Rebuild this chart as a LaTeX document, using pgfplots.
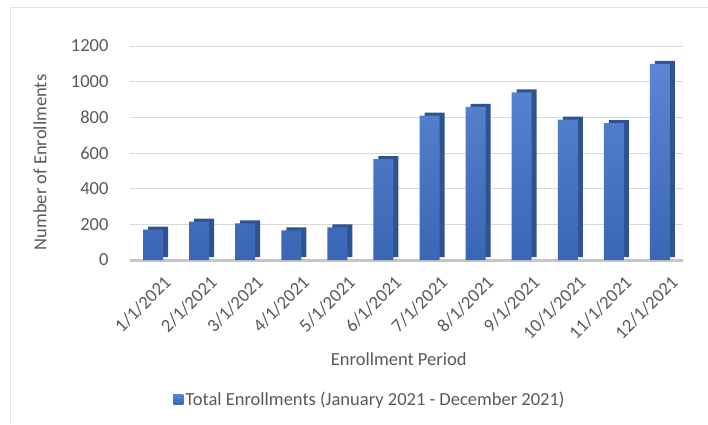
\documentclass[border=0pt]{standalone}
\usepackage{pgfplots}
\pgfplotsset{compat=1.18}
\usepackage{fontspec}
\setmainfont{Carlito}
\definecolor{txt}{HTML}{595959}
\definecolor{gridc}{HTML}{D9D9D9}
\definecolor{barfront}{HTML}{4472C4}
\definecolor{bartop}{HTML}{5A86D3}
\definecolor{barbot}{HTML}{3A66B6}
\definecolor{barside}{HTML}{2E5391}
\newcommand{\fs}{\fontsize{18.5}{22}\selectfont}
\begin{document}
\begin{tikzpicture}
\path[use as bounding box] (0,0) rectangle (708pt,424pt);
\draw[gridc!70, line width=1pt] (10.5pt,0) -- (10.5pt,416pt) -- (708pt,416pt);
\begin{axis}[
  at={(130pt,164pt)}, anchor=south west,
  scale only axis, width=553pt, height=214pt,
  xmin=-0.5, xmax=11.5, ymin=0, ymax=1200,
  ytick={0,200,...,1200},
  xtick={0,...,11},
  xticklabels={1/1/2021,2/1/2021,3/1/2021,4/1/2021,5/1/2021,6/1/2021,7/1/2021,8/1/2021,9/1/2021,10/1/2021,11/1/2021,12/1/2021},
  major tick length=0pt,
  ymajorgrids, grid style={draw=gridc, line width=0.8pt},
  axis lines*=left,
  y axis line style={draw=none},
  x axis line style={draw=gray!45, line width=3pt, -},
  /pgf/number format/assume math mode=true,
  /pgf/number format/1000 sep={},
  tick label style={font=\fs, text=txt},
  yticklabel style={anchor=east, xshift=-18pt},
  xticklabel style={rotate=45, anchor=north east, inner sep=1pt, yshift=-16pt, xshift=-2pt},
  label style={font=\fs, text=txt},
  xlabel={Enrollment Period},
  ylabel={Number of Enrollments},
  x label style={at={(axis description cs:0.486,-0.4626)}, anchor=center},
  y label style={at={(axis description cs:-0.1627,0.4556)}, anchor=center},
  legend style={at={(0.434,-0.654)}, anchor=center, draw=none, font=\fs, text=txt, fill=none,
    legend cell align=left},
  legend image code/.code={\fill[barfront] (0pt,-4.5pt) rectangle (10pt,5.5pt);},
  clip=false,
]
\addplot[ybar, bar width=20pt, fill=barside, draw=none, xshift=5pt, yshift=3pt, forget plot]
  coordinates {(0,170) (1,215) (2,206) (3,166) (4,183) (5,566) (6,810) (7,858) (8,940) (9,787) (10,768) (11,1100)};
\addplot[ybar, bar width=20pt, draw=none, top color=bartop, bottom color=barbot]
  coordinates {(0,170) (1,215) (2,206) (3,166) (4,183) (5,566) (6,810) (7,858) (8,940) (9,787) (10,768) (11,1100)};
\addlegendentry{Total Enrollments (January 2021 - December 2021)}
\end{axis}
\end{tikzpicture}
\end{document}
